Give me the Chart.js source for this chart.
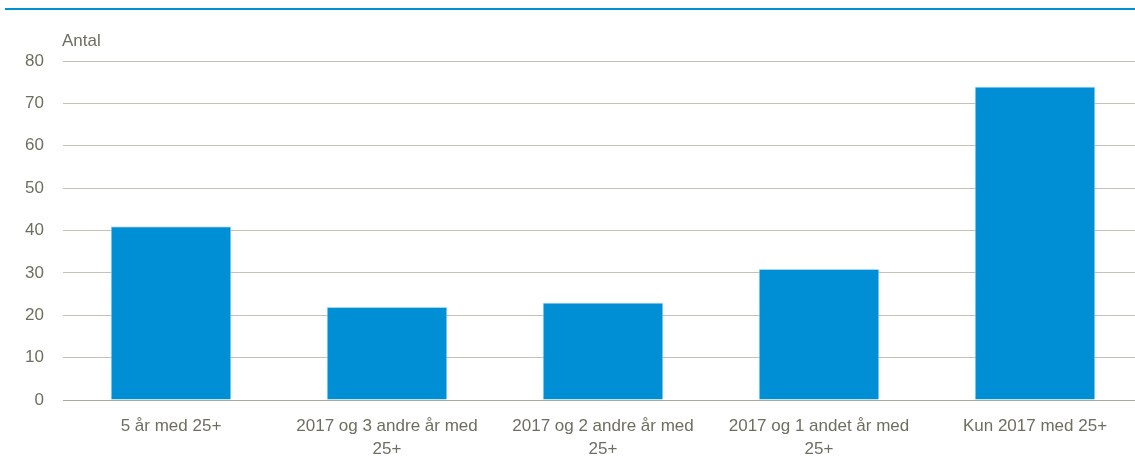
<!DOCTYPE html>
<html>
<head>
<meta charset="utf-8">
<script src="https://cdn.jsdelivr.net/npm/chart.js@4.4.1/dist/chart.umd.min.js"></script>
<style>
  html, body { margin: 0; padding: 0; background: #ffffff; overflow: hidden; }
  #wrap { position: relative; width: 1143px; height: 465px; }
  #topline { position: absolute; left: 5px; top: 8px; width: 1140px; height: 2px; background: #0090d3; }
  #c { position: absolute; left: 0; top: 0; }
</style>
</head>
<body>
<div id="wrap">
  <div id="topline"></div>
  <canvas id="c" width="1143" height="465"></canvas>
</div>
<script>
const categories = [
  ['5 år med 25+'],
  ['2017 og 3 andre år med', '25+'],
  ['2017 og 2 andre år med', '25+'],
  ['2017 og 1 andet år med', '25+'],
  ['Kun 2017 med 25+']
];
const values = [41, 22, 23, 31, 74];
const yTicks = [0, 10, 20, 30, 40, 50, 60, 70, 80];
const yTitle = 'Antal';

const textColor = '#6e6e60';
const gridColor = '#c2c2b6';
const fontFamily = '"Liberation Sans", Arial, sans-serif';

const unitLabel = {
  id: 'unitLabel',
  afterDraw(chart) {
    const ctx = chart.ctx;
    ctx.save();
    ctx.fillStyle = textColor;
    ctx.font = '17px ' + fontFamily;
    ctx.textAlign = 'left';
    ctx.textBaseline = 'middle';
    ctx.fillText(yTitle, chart.chartArea.left - 1, 41);
    ctx.restore();
  }
};

new Chart(document.getElementById('c'), {
  type: 'bar',
  data: {
    labels: categories,
    datasets: [{
      data: values,
      backgroundColor: '#008fd5',
      borderColor: '#cfeaf7',
      borderWidth: 1,
      barPercentage: 0.56,
      categoryPercentage: 1.0
    }]
  },
  options: {
    responsive: false,
    animation: false,
    layout: { padding: { top: 61, right: 0, bottom: 0, left: 0 } },
    plugins: { legend: { display: false }, tooltip: { enabled: false } },
    scales: {
      x: {
        grid: { display: false, drawTicks: false },
        border: { display: true, color: '#a9a99c', width: 1 },
        ticks: {
          color: textColor,
          font: { family: fontFamily, size: 17, lineHeight: 1.4 },
          maxRotation: 0,
          autoSkip: false,
          padding: 14
        },
        afterFit(scale) { scale.height = 65; }
      },
      y: {
        min: 0,
        max: 80,
        afterBuildTicks(scale) { scale.ticks = yTicks.map(v => ({ value: v })); },
        grid: { color: gridColor, lineWidth: 1, drawTicks: false },
        border: { display: false },
        ticks: {
          color: textColor,
          font: { family: fontFamily, size: 17 },
          padding: 19
        },
        afterFit(scale) { scale.width = 63; }
      }
    }
  },
  plugins: [unitLabel]
});
</script>
</body>
</html>
